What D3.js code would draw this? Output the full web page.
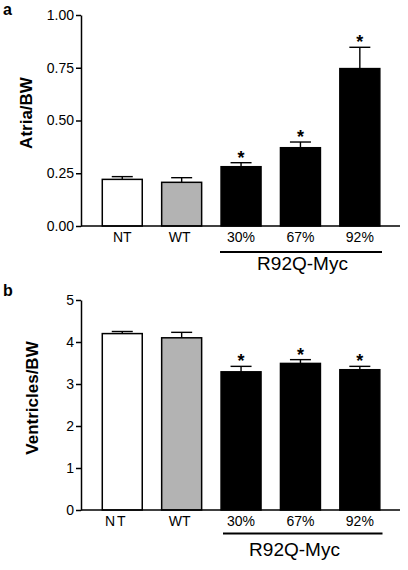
<!DOCTYPE html>
<html><head><meta charset="utf-8">
<script src="https://cdn.jsdelivr.net/npm/d3@7"></script>
<style>
body{margin:0;background:#fff;}
svg text{font-family:"Liberation Sans",Arial,Helvetica,sans-serif;fill:#000;}
</style></head>
<body><svg id="c" width="408" height="570"></svg>
<script>
// ---- data ----
const categories = ["NT", "WT", "30%", "67%", "92%"];
const barFills = ["#ffffff", "#b3b3b3", "#000000", "#000000", "#000000"];
const significant = [false, false, true, true, true];
const atriaMeans = [0.221, 0.207, 0.281, 0.371, 0.746];
const atriaErrors = [0.013, 0.022, 0.019, 0.027, 0.101];
const atriaTicks = [0, 0.25, 0.5, 0.75, 1.0];
const ventMeans = [4.20, 4.10, 3.29, 3.49, 3.34];
const ventErrors = [0.05, 0.13, 0.13, 0.09, 0.08];
const ventTicks = [0, 1, 2, 3, 4, 5];
const groupLabel = "R92Q-Myc";
const groupMembers = ["30%", "67%", "92%"];

const svg = d3.select("#c");

const x = d3.scaleBand().domain(categories).range([90.4, 391.7])
  .paddingInner(0.327).paddingOuter(0.2);

function panel(o) {
  const g = svg.append("g");
  const y = d3.scaleLinear().domain(o.domain).range([o.y0, o.y1]);
  const data = categories.map((c, i) => ({c, v: o.means[i], e: o.errors[i], fill: barFills[i], sig: significant[i]}));

  // error bars (up only)
  g.selectAll(".eb").data(data).join("line")
    .attr("x1", d => x(d.c) + x.bandwidth()/2).attr("x2", d => x(d.c) + x.bandwidth()/2)
    .attr("y1", d => y(d.v)).attr("y2", d => y(d.v + d.e))
    .attr("stroke", "#000").attr("stroke-width", 1.4);
  g.selectAll(".cap").data(data).join("line")
    .attr("x1", d => x(d.c) + x.bandwidth()/2 - 10.5).attr("x2", d => x(d.c) + x.bandwidth()/2 + 10.5)
    .attr("y1", d => y(d.v + d.e)).attr("y2", d => y(d.v + d.e))
    .attr("stroke", "#000").attr("stroke-width", 1.4);

  // bars
  g.selectAll(".bar").data(data).join("rect")
    .attr("x", d => x(d.c)).attr("width", x.bandwidth())
    .attr("y", d => y(d.v)).attr("height", d => y(0) - y(d.v))
    .attr("fill", d => d.fill).attr("stroke", "#000").attr("stroke-width", 1.5);

  // stars
  g.selectAll(".star").data(data.filter(d => d.sig)).join("text")
    .attr("x", d => x(d.c) + x.bandwidth()/2).attr("y", d => y(d.v + d.e) + 1)
    .attr("text-anchor", "middle").attr("font-size", 18).attr("font-weight", "bold")
    .text("*");

  // y axis
  const ya = g.append("g").attr("transform", "translate(81,0)")
    .call(d3.axisLeft(y).tickValues(o.ticks).tickFormat(o.fmt).tickSize(5).tickSizeOuter(0).tickPadding(2));
  ya.select(".domain").attr("stroke-width", 1.5);
  ya.selectAll(".tick line").attr("stroke-width", 1.5);
  ya.selectAll("text").attr("font-size", 14).attr("font-family", null);

  // x axis
  const xa = g.append("g").attr("transform", `translate(0,${o.y0})`)
    .call(d3.axisBottom(x).tickSize(0).tickPadding(6));
  xa.select(".domain").attr("d", `M81,0H400`).attr("stroke-width", 1.5);
  xa.selectAll("text").attr("font-size", 14).attr("font-family", null)
    .attr("dx", d => d === "NT" ? o.ntDx : (d === "WT" ? -2 : 0))
    .attr("letter-spacing", d => d === "NT" ? o.ntLs : null);

  // group underline + label
  g.append("line").attr("x1", o.lineX[0]).attr("x2", o.lineX[1])
    .attr("y1", o.lineY).attr("y2", o.lineY).attr("stroke", "#000").attr("stroke-width", 2);
  g.append("text").attr("x", o.labelX).attr("y", o.labelY).attr("text-anchor", "middle")
    .attr("font-size", 19).text(groupLabel);

  // y title
  g.append("text").attr("transform", `translate(${o.titleX},${o.titleY}) rotate(-90)`)
    .attr("text-anchor", "middle").attr("font-size", 17).attr("font-weight", "bold").text(o.title);

  // panel letter
  g.append("text").attr("x", 3).attr("y", o.letterY).attr("font-size", 16)
    .attr("font-weight", "bold").text(o.letter);
}

panel({domain: [0, 1], y0: 226, y1: 15, means: atriaMeans, errors: atriaErrors, ticks: atriaTicks,
  fmt: d3.format(".2f"), lineX: [220, 382], lineY: 252, labelX: 302.5, labelY: 270,
  title: "Atria/BW", titleX: 32, titleY: 113, letter: "a", letterY: 15, ntDx: 0, ntLs: null});
panel({domain: [0, 5], y0: 510, y1: 300, means: ventMeans, errors: ventErrors, ticks: ventTicks,
  fmt: d3.format("d"), lineX: [223, 382.5], lineY: 533.5, labelX: 294.5, labelY: 556,
  title: "Ventricles/BW", titleX: 38, titleY: 398, letter: "b", letterY: 296, ntDx: -6, ntLs: 2});
</script></body></html>
